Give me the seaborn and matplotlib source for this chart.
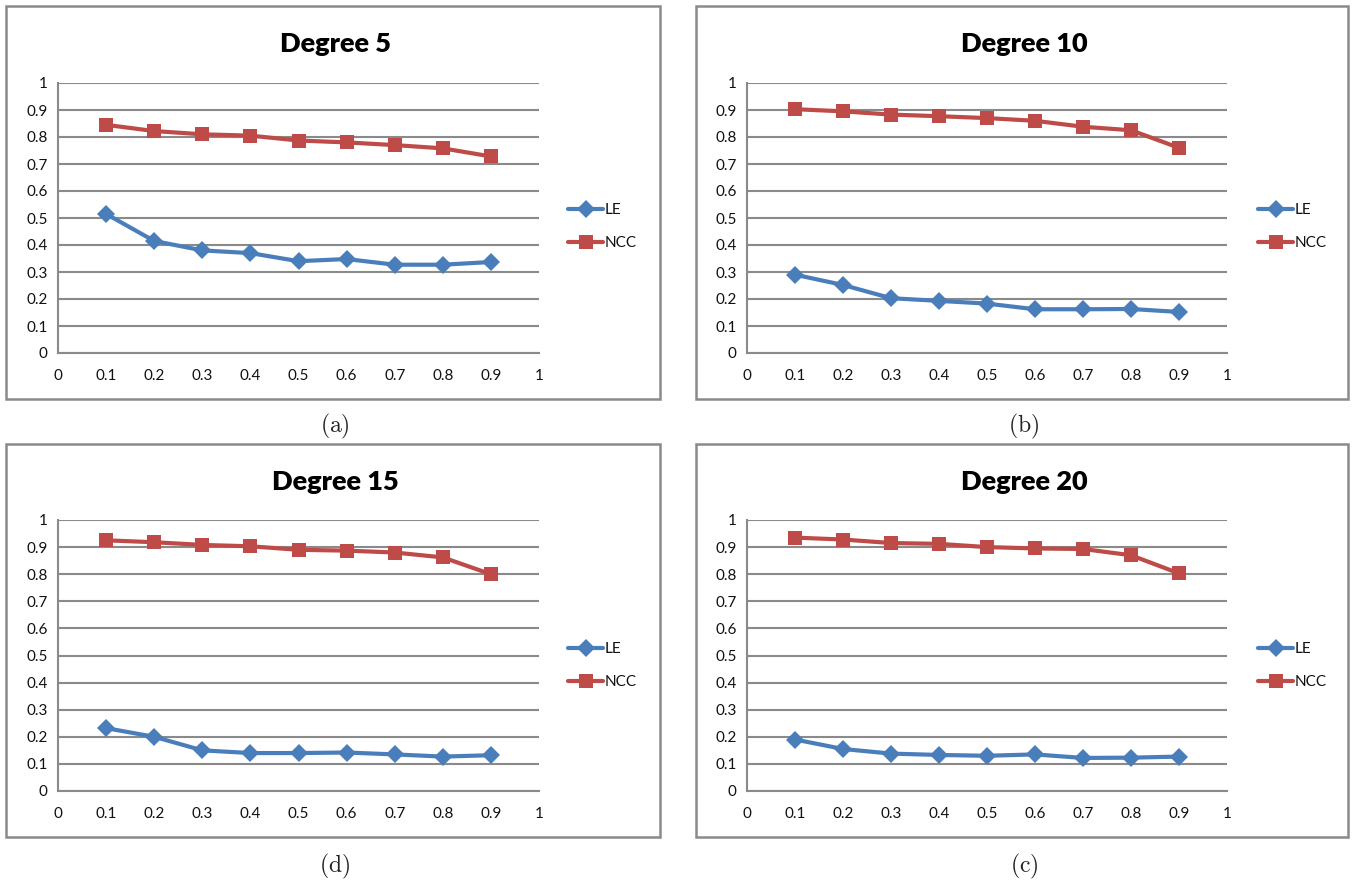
import numpy as np
import pandas as pd
import matplotlib
matplotlib.use("Agg")
import matplotlib.pyplot as plt
from matplotlib.patches import Rectangle
import seaborn as sns

# Noise fraction on the x axis
x_vals = [0.1, 0.2, 0.3, 0.4, 0.5, 0.6, 0.7, 0.8, 0.9]
x_ticks = [0, 0.1, 0.2, 0.3, 0.4, 0.5, 0.6, 0.7, 0.8, 0.9, 1]
x_tick_labels = ["0", "0.1", "0.2", "0.3", "0.4", "0.5", "0.6", "0.7", "0.8", "0.9", "1"]
y_ticks = [0, 0.1, 0.2, 0.3, 0.4, 0.5, 0.6, 0.7, 0.8, 0.9, 1]
y_tick_labels = ["0", "0.1", "0.2", "0.3", "0.4", "0.5", "0.6", "0.7", "0.8", "0.9", "1"]

series_names = ["LE", "NCC"]
titles = ["Degree 5", "Degree 10", "Degree 15", "Degree 20"]
panel_tags = ["(a)", "(b)", "(d)", "(c)"]

le_deg5 = [0.515, 0.415, 0.380, 0.370, 0.340, 0.348, 0.327, 0.327, 0.337]
ncc_deg5 = [0.845, 0.822, 0.810, 0.805, 0.787, 0.780, 0.770, 0.758, 0.728]

le_deg10 = [0.290, 0.252, 0.203, 0.193, 0.183, 0.162, 0.162, 0.163, 0.152]
ncc_deg10 = [0.903, 0.895, 0.883, 0.877, 0.870, 0.860, 0.838, 0.825, 0.760]

le_deg15 = [0.232, 0.200, 0.150, 0.140, 0.140, 0.142, 0.135, 0.127, 0.132]
ncc_deg15 = [0.925, 0.918, 0.908, 0.903, 0.890, 0.887, 0.880, 0.862, 0.800]

le_deg20 = [0.190, 0.155, 0.138, 0.133, 0.130, 0.135, 0.122, 0.123, 0.127]
ncc_deg20 = [0.935, 0.928, 0.915, 0.912, 0.900, 0.895, 0.893, 0.870, 0.803]

le_all = [le_deg5, le_deg10, le_deg15, le_deg20]
ncc_all = [ncc_deg5, ncc_deg10, ncc_deg15, ncc_deg20]

BLUE = "#4A7EBB"
RED = "#BE4B48"
GRID = "#8A8A8A"

sns.set_theme(style="white")
plt.rcParams["font.family"] = ["Lato", "DejaVu Sans"]
plt.rcParams["mathtext.fontset"] = "cm"

W, H = 1357, 882
fig = plt.figure(figsize=(W / 100, H / 100), dpi=100)
fig.patch.set_facecolor("white")


def fx(px):
    return px / W


def fy(py):
    return 1 - py / H


# (frame box, plot area, title y, tag y, legend row y) in pixel units
layouts = [
    dict(box=(6, 6, 660, 399), plot=(58, 83, 539, 353), title_y=44, tag_y=426, leg=(572, 213)),
    dict(box=(696, 6, 1348, 399), plot=(747, 83, 1227, 353), title_y=44, tag_y=426, leg=(1262, 213)),
    dict(box=(6, 444, 660, 837), plot=(58, 520, 539, 791), title_y=482, tag_y=866, leg=(572, 652)),
    dict(box=(696, 444, 1348, 837), plot=(747, 520, 1227, 791), title_y=482, tag_y=866, leg=(1262, 652)),
]

for i, lay in enumerate(layouts):
    bx0, by0, bx1, by1 = lay["box"]
    fig.patches.append(Rectangle((fx(bx0), fy(by1)), fx(bx1) - fx(bx0), fy(by0) - fy(by1),
                                 transform=fig.transFigure, fill=False,
                                 edgecolor="#8A8A8A", linewidth=1.8, zorder=0))

    px0, py0, px1, py1 = lay["plot"]
    ax = fig.add_axes([fx(px0), fy(py1), fx(px1) - fx(px0), fy(py0) - fy(py1)])
    ax.set_facecolor("none")

    df = pd.DataFrame({
        "x": x_vals * 2,
        "y": le_all[i] + ncc_all[i],
        "series": [series_names[0]] * len(x_vals) + [series_names[1]] * len(x_vals),
    })
    sns.lineplot(data=df, x="x", y="y", hue="series", style="series",
                 palette={"LE": BLUE, "NCC": RED},
                 markers={"LE": "D", "NCC": "s"}, dashes=False,
                 markersize=9.5, markeredgewidth=0, linewidth=3.0,
                 ax=ax, legend=True, zorder=3)

    ax.set_xlim(0, 1)
    ax.set_ylim(0, 1)
    ax.set_xticks(x_ticks)
    ax.set_xticklabels(x_tick_labels)
    ax.set_yticks(y_ticks)
    ax.set_yticklabels(y_tick_labels)
    ax.set_xlabel("")
    ax.set_ylabel("")
    ax.yaxis.grid(True, color=GRID, linewidth=1.5)
    ax.xaxis.grid(False)
    ax.set_axisbelow(True)
    for s in ["top", "right"]:
        ax.spines[s].set_visible(False)
    for s in ["left", "bottom"]:
        ax.spines[s].set_color(GRID)
        ax.spines[s].set_linewidth(1.5)
    ax.tick_params(axis="both", which="both", direction="out", length=4.5, width=1.2,
                   color=GRID, labelsize=11, labelcolor="#111111")
    ax.tick_params(axis="x", pad=7)
    ax.tick_params(axis="y", pad=3)

    lx, ly = lay["leg"]
    leg = ax.legend(loc="upper left", bbox_to_anchor=(fx(lx - 4), fy(ly - 10)),
                    bbox_transform=fig.transFigure, frameon=False,
                    fontsize=11, handlelength=2.3, handletextpad=0.1,
                    labelspacing=1.25, borderpad=0, borderaxespad=0)
    for t in leg.get_texts():
        t.set_color("#111111")

    cx = (bx0 + bx1) / 2
    fig.text(fx(cx + 2), fy(lay["title_y"]), titles[i], ha="center", va="center",
             fontsize=19.5, fontweight="heavy", color="black")
    fig.text(fx(cx + 2), fy(lay["tag_y"]), r"$\mathrm{" + panel_tags[i] + "}$",
             ha="center", va="center", fontsize=17, color="#222222")

fig.savefig("out.png", dpi=100, facecolor="white")
